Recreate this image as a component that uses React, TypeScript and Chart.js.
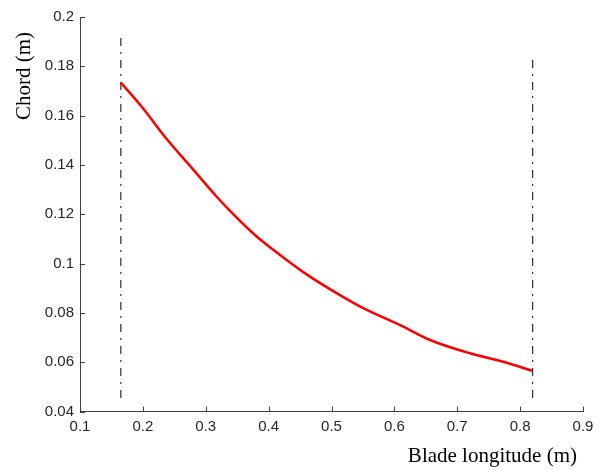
import React, { useEffect, useRef } from "react";
import { Chart, registerables } from "chart.js";

Chart.register(...registerables);

const bladeLongitude = [0.165, 0.2007, 0.2379, 0.275, 0.3174, 0.3386, 0.3783, 0.4181, 0.4658, 0.5135, 0.5506, 0.6142, 0.6567, 0.7203, 0.7732, 0.8194];
const chord = [0.1734, 0.1628, 0.1505, 0.1396, 0.1271, 0.1214, 0.1116, 0.1035, 0.0947, 0.0872, 0.0819, 0.0744, 0.069, 0.0636, 0.0602, 0.0565];

const rootLineX = [0.165, 0.165];
const rootLineY = [0.0455, 0.1915];
const tipLineX = [0.82, 0.82];
const tipLineY = [0.0455, 0.1826];

const xTitle = "Blade longitude (m)";
const yTitle = "Chord (m)";

const fmt = (v: number) => String(Number(Number(v).toFixed(3)));

const axisPlugin = {
  id: "matlabAxes",
  afterDraw(chart: any) {
    const { ctx, chartArea, scales } = chart;
    ctx.save();
    ctx.strokeStyle = "#404040";
    ctx.lineWidth = 1;
    // inward ticks
    scales.x.ticks.forEach((t: any) => {
      const px = Math.round(scales.x.getPixelForValue(t.value)) + 0.5;
      ctx.beginPath();
      ctx.moveTo(px, chartArea.bottom);
      ctx.lineTo(px, chartArea.bottom - 5);
      ctx.stroke();
    });
    scales.y.ticks.forEach((t: any) => {
      const py = Math.round(scales.y.getPixelForValue(t.value)) + 0.5;
      ctx.beginPath();
      ctx.moveTo(chartArea.left, py);
      ctx.lineTo(chartArea.left + 5, py);
      ctx.stroke();
    });
    // titles
    ctx.fillStyle = "#000";
    ctx.font = '21px "Liberation Serif", "Times New Roman", serif';
    ctx.textBaseline = "middle";
    ctx.textAlign = "right";
    ctx.fillText(xTitle, chartArea.right - 6, chartArea.bottom + 45);
    ctx.translate(24, chartArea.top + 15);
    ctx.rotate(-Math.PI / 2);
    ctx.textAlign = "right";
    ctx.fillText(yTitle, 0, 0);
    ctx.restore();
  },
};

export default function App() {
  const ref = useRef<HTMLCanvasElement | null>(null);
  useEffect(() => {
    document.body.style.margin = "0";
    const canvas = ref.current;
    if (!canvas) return;
    const tickFont = { family: '"Liberation Sans", Arial, sans-serif', size: 15 };
    const chart = new Chart(canvas, {
      type: "line",
      data: {
        datasets: [
          {
            data: bladeLongitude.map((x, i) => ({ x, y: chord[i] })),
            borderColor: "#ff0000",
            borderWidth: 2.5,
            pointRadius: 0,
            cubicInterpolationMode: "monotone",
            fill: false,
          },
          {
            data: rootLineX.map((x, i) => ({ x, y: rootLineY[i] })),
            borderColor: "#000",
            borderWidth: 1,
            borderDash: [8, 6, 2, 6],
            pointRadius: 0,
            fill: false,
          },
          {
            data: tipLineX.map((x, i) => ({ x, y: tipLineY[i] })),
            borderColor: "#000",
            borderWidth: 1,
            borderDash: [8, 6, 2, 6],
            pointRadius: 0,
            fill: false,
          },
        ],
      },
      options: {
        animation: false,
        responsive: false,
        layout: { padding: { left: 0, top: 17, right: 18, bottom: 0 } },
        plugins: { legend: { display: false }, tooltip: { enabled: false } },
        scales: {
          x: {
            type: "linear",
            min: 0.1,
            max: 0.9,
            ticks: { stepSize: 0.1, color: "#262626", font: tickFont, padding: 6, callback: (v: any) => fmt(v), maxRotation: 0 },
            grid: { drawOnChartArea: false, drawTicks: false },
            border: { display: true, color: "#404040", width: 1 },
            afterFit: (s: any) => { s.height = 58.5; },
          },
          y: {
            type: "linear",
            min: 0.04,
            max: 0.2,
            ticks: { stepSize: 0.02, color: "#262626", font: tickFont, padding: 6, callback: (v: any) => fmt(v) },
            grid: { drawOnChartArea: false, drawTicks: false },
            border: { display: true, color: "#404040", width: 1 },
            afterFit: (s: any) => { s.width = 80; },
          },
        },
      },
      plugins: [axisPlugin],
    } as any);
    return () => chart.destroy();
  }, []);
  return (
    <div style={{ width: 601, height: 470, background: "#fff" }}>
      <canvas ref={ref} width={601} height={470} style={{ display: "block" }} />
    </div>
  );
}
